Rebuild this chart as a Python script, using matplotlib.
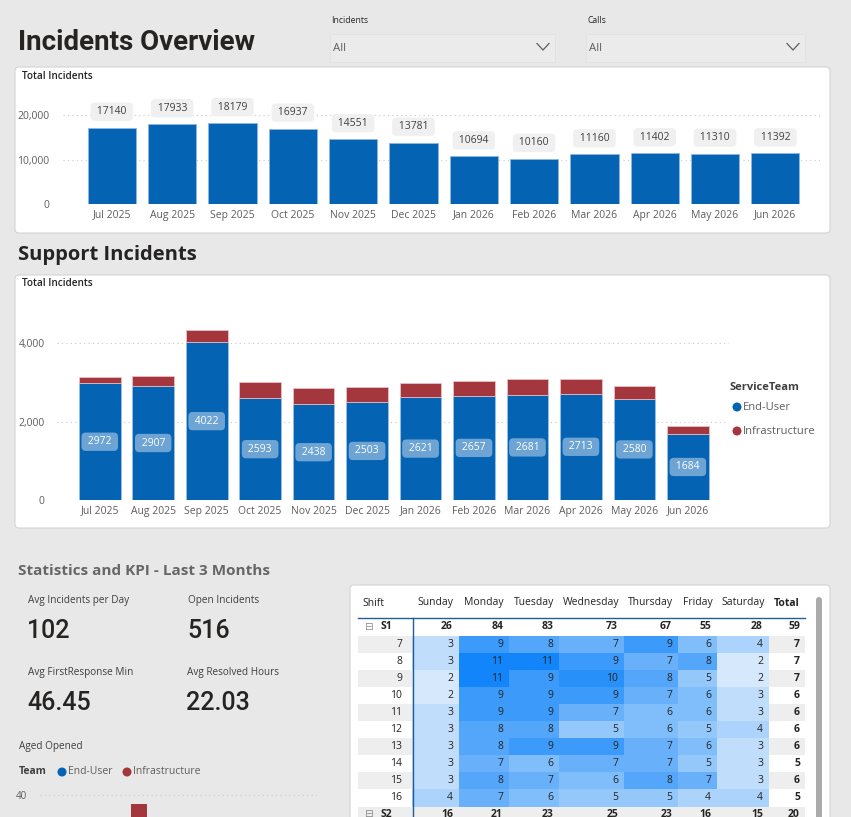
import matplotlib
matplotlib.use("Agg")
import matplotlib.pyplot as plt
from matplotlib.patches import FancyBboxPatch, Rectangle, Circle
from matplotlib.colors import LinearSegmentedColormap
import numpy as np

plt.rcParams['font.family'] = ['Open Sans', 'DejaVu Sans']

# ---------------- data ----------------
months = ["Jul 2025", "Aug 2025", "Sep 2025", "Oct 2025", "Nov 2025", "Dec 2025",
          "Jan 2026", "Feb 2026", "Mar 2026", "Apr 2026", "May 2026", "Jun 2026"]
total_incidents = [17140, 17933, 18179, 16937, 14551, 13781, 10694, 10160, 11160, 11402, 11310, 11392]
end_user = [2972, 2907, 4022, 2593, 2438, 2503, 2621, 2657, 2681, 2713, 2580, 1684]
infrastructure = [162, 260, 309, 405, 415, 384, 352, 367, 402, 370, 316, 201]
series_names = ["End-User", "Infrastructure"]

slicer_labels = ["Incidents", "Calls"]
slicer_values = ["All", "All"]

kpi_labels = ["Avg Incidents per Day", "Open Incidents", "Avg FirstResponse Min", "Avg Resolved Hours"]
kpi_values = ["102", "516", "46.45", "22.03"]

weekdays = ["Sunday", "Monday", "Tuesday", "Wednesday", "Thursday", "Friday", "Saturday"]
shift_hours = ["7", "8", "9", "10", "11", "12", "13", "14", "15", "16"]
hour_values = [
    [3, 9, 8, 7, 9, 6, 4],
    [3, 11, 11, 9, 7, 8, 2],
    [2, 11, 9, 10, 8, 5, 2],
    [2, 9, 9, 9, 7, 6, 3],
    [3, 9, 9, 7, 6, 6, 3],
    [3, 8, 8, 5, 6, 5, 4],
    [3, 8, 9, 9, 7, 6, 3],
    [3, 7, 6, 7, 7, 5, 3],
    [3, 8, 7, 6, 8, 7, 3],
    [4, 7, 6, 5, 5, 4, 4],
]
hour_totals = [7, 7, 7, 6, 6, 6, 6, 5, 6, 5]
s1_values = [26, 84, 83, 73, 67, 55, 28]
s1_total = 59
s2_values = [16, 21, 23, 25, 23, 16, 15]
s2_total = 20

aged_infra = [38]
aged_grid = [40]

# ---------------- style ----------------
BG = '#E8E8E8'
BLUE = '#0563B4'
RED = '#A4373D'
DARK = '#252423'
GREY = '#605E5C'
W, H = 851, 817

fig = plt.figure(figsize=(W / 100, H / 100), dpi=100)
fig.patch.set_facecolor(BG)
bg = fig.add_axes([0, 0, 1, 1])
bg.set_xlim(0, W)
bg.set_ylim(H, 0)
bg.axis('off')


def card(x0, y0, x1, y1, fc='white', ec='#D4D4D4', r=4):
    bg.add_patch(FancyBboxPatch((x0, y0), x1 - x0, y1 - y0,
                                boxstyle=f"round,pad=0,rounding_size={r}",
                                fc=fc, ec=ec, lw=0.8))


def axes_px(x0, y0, x1, y1):
    return fig.add_axes([x0 / W, 1 - y1 / H, (x1 - x0) / W, (y1 - y0) / H])


def style_axes(ax, ticks, labels, pad_y, size=7.5):
    ax.set_facecolor('none')
    for s in ax.spines.values():
        s.set_visible(False)
    ax.set_yticks(ticks)
    ax.set_yticklabels(labels)
    ax.tick_params(axis='both', length=0, labelsize=size, labelcolor=GREY)
    ax.tick_params(axis='y', pad=pad_y)
    ax.grid(axis='y', color='#C8C8C8', linestyle=(0, (1, 3)), linewidth=0.8)
    ax.set_axisbelow(True)


# ---------------- header ----------------
bg.text(18, 42, "Incidents Overview", fontsize=20, fontweight='bold', family='Roboto',
        va='center', ha='left', color=DARK)
for lx, lab, val, wbox in zip([330, 586], slicer_labels, slicer_values, [225, 219]):
    bg.text(lx + 1, 20, lab, fontsize=6.2, va='center', color=DARK)
    bg.add_patch(Rectangle((lx, 34), wbox, 28, fc='#EBEBEB', ec='#E1E1E1', lw=0.6))
    bg.text(lx + 3, 48, val, fontsize=8.2, va='center', color=GREY)
    cx = lx + wbox - 12
    bg.plot([cx - 6, cx, cx + 6], [43.5, 50, 43.5], color=GREY, lw=0.9)

# ---------------- top chart ----------------
card(15, 67, 830, 233)
bg.text(22, 76, "Total Incidents", fontsize=7.2, va='center', color=DARK, fontweight='semibold')
x = np.arange(len(months))
ax1 = axes_px(63, 95, 820, 204)
ax1.bar(x, total_incidents, width=0.8, color=BLUE, edgecolor='#8DB8E6', lw=0.6)
for xi, v in zip(x, total_incidents):
    ax1.annotate(f" {v} ", (xi, v), xytext=(0, 16), textcoords='offset pixels',
                 ha='center', va='center', fontsize=7.5, color='#404040',
                 bbox=dict(boxstyle='round,pad=0.35,rounding_size=0.4', fc='#F0F0F0', ec='none'))
ax1.set_xlim(-0.81, 11.74)
ax1.set_ylim(0, 24500)
style_axes(ax1, [0, 10000, 20000], ["0", "10,000", "20,000"], 10)
ax1.set_xticks(x)
ax1.set_xticklabels(months)
ax1.tick_params(axis='x', pad=4)

# ---------------- support incidents ----------------
bg.text(18, 255, "Support Incidents", fontsize=14.5, fontweight='bold', va='center', color=DARK)
card(15, 275, 830, 528)
bg.text(22, 284, "Total Incidents", fontsize=7.2, va='center', color=DARK, fontweight='semibold')
ax2 = axes_px(57, 300, 729, 500)
ax2.bar(x, end_user, width=0.78, color=BLUE, edgecolor='#9CC3EA', lw=0.5, label=series_names[0])
ax2.bar(x, infrastructure, width=0.78, bottom=end_user, color=RED, edgecolor='#F0C8CA', lw=0.5,
        label=series_names[1])
for xi, v in zip(x, end_user):
    ax2.text(xi, v / 2, f" {v} ", ha='center', va='center', fontsize=7.5, color='white',
             bbox=dict(boxstyle='round,pad=0.35,rounding_size=0.4', fc='white', alpha=0.42, ec='none'))
ax2.set_xlim(-0.80, 11.77)
ax2.set_ylim(0, 5100)
style_axes(ax2, [0, 2000, 4000], ["0", "2,000", "4,000"], 9)
ax2.set_xticks(x)
ax2.set_xticklabels(months)
ax2.tick_params(axis='x', pad=4)

bg.text(730, 387, "ServiceTeam", fontsize=8, fontweight='bold', va='center', color='#404040')
for yy, name, col in zip([407, 431], series_names, [BLUE, RED]):
    bg.add_patch(Circle((737, yy), 4.5, fc=col, ec='none'))
    bg.text(743, yy, name, fontsize=8, va='center', color=GREY)

# ---------------- KPIs ----------------
bg.text(18, 571, "Statistics and KPI - Last 3 Months", fontsize=11, fontweight='bold',
        va='center', color='#666666')
kpi_pos = [(28, 600), (188, 600), (28, 672), (187, 672)]
for (kx, ky), lab, val in zip(kpi_pos, kpi_labels, kpi_values):
    bg.text(kx, ky, lab, fontsize=7.2, va='center', color='#404040')
    bg.text(kx - 1, ky + 31, val, fontsize=18, va='center', color=DARK, family='Roboto',
            fontweight='medium')

bg.text(19, 746, "Aged Opened", fontsize=7.2, va='center', color='#404040')
bg.text(19, 772, "Team", fontsize=7.5, fontweight='bold', va='center', color='#404040')
bg.add_patch(Circle((62, 772), 4.5, fc=BLUE, ec='none'))
bg.text(68, 772, series_names[0], fontsize=7.5, va='center', color=GREY)
bg.add_patch(Circle((127, 772), 4.5, fc=RED, ec='none'))
bg.text(133, 772, series_names[1], fontsize=7.5, va='center', color=GREY)

ax3 = axes_px(40, 785, 317, 817)
ax3.bar([0], aged_infra, width=1.0, color=RED)
ax3.set_xlim(-6.19, 11.12)
ax3.set_ylim(35, 42.27)
style_axes(ax3, aged_grid, [str(v) for v in aged_grid], 9, size=7)
ax3.set_xticks([])

# ---------------- table ----------------
card(350, 585, 830, 860)
col_edges = [358, 412, 459, 509, 559, 624, 678, 717, 769, 805]
cmap = LinearSegmentedColormap.from_list('heat', ['#D6E9FC', '#1185F9'])
vmin, vmax = 2, 11
FS = 7.5

hy = 603
bg.text(362, hy, "Shift", fontsize=FS, va='center', color=DARK)
for j, d in enumerate(weekdays):
    bg.text((col_edges[j + 1] + col_edges[j + 2]) / 2, hy, d, fontsize=FS, va='center',
            ha='center', color=DARK)
bg.text((col_edges[8] + col_edges[9]) / 2, hy, "Total", fontsize=FS, fontweight='bold',
        va='center', ha='center', color=DARK)

row_h = 17.1
s1_top = 618
hours_top = 635.5


def value_text(xr, yc, s, bold=False):
    bg.text(xr, yc, s, fontsize=FS, va='center', ha='right', color=DARK,
            fontweight='bold' if bold else 'normal')


# S1 row
yc = s1_top + row_h / 2
bg.text(368, yc, "\u229F", fontsize=7.5, va='center', ha='center', color='#8A8A8A', family='DejaVu Sans')
bg.text(381, yc, "S1", fontsize=FS, fontweight='bold', va='center', color=DARK)
for j, v in enumerate(s1_values):
    value_text(col_edges[j + 2] - 6, yc, str(v), True)
value_text(col_edges[9] - 5, yc, str(s1_total), True)

for i, (hr, vals, tot) in enumerate(zip(shift_hours, hour_values, hour_totals)):
    top = hours_top + i * row_h
    yc = top + row_h / 2
    shade = '#EEEEEE' if i % 2 == 0 else 'white'
    bg.add_patch(Rectangle((col_edges[0], top), col_edges[1] - col_edges[0], row_h, fc=shade, ec='none'))
    bg.add_patch(Rectangle((col_edges[8], top), col_edges[9] - col_edges[8], row_h, fc=shade, ec='none'))
    bg.text(402, yc, hr, fontsize=FS, va='center', ha='right', color=DARK)
    for j, v in enumerate(vals):
        c = cmap((v - vmin) / (vmax - vmin))
        bg.add_patch(Rectangle((col_edges[j + 1], top), col_edges[j + 2] - col_edges[j + 1], row_h,
                               fc=c, ec='none'))
        value_text(col_edges[j + 2] - 6, yc, str(v))
    value_text(col_edges[9] - 5, yc, str(tot), True)

# S2 row (partly hidden by the bottom edge, as in the dashboard)
top = hours_top + len(shift_hours) * row_h
yc = top + row_h / 2 - 1
bg.add_patch(Rectangle((col_edges[0], top), col_edges[9] - col_edges[0], row_h, fc='#EEEEEE', ec='none'))
bg.text(368, yc, "\u229F", fontsize=7.5, va='center', ha='center', color='#8A8A8A', family='DejaVu Sans')
bg.text(381, yc, "S2", fontsize=FS, fontweight='bold', va='center', color=DARK)
for j, v in enumerate(s2_values):
    value_text(col_edges[j + 2] - 6, yc, str(v), True)
value_text(col_edges[9] - 5, yc, str(s2_total), True)

bg.plot([col_edges[0], col_edges[9]], [s1_top, s1_top], color='#1F5F99', lw=1.0)
bg.plot([col_edges[1] + 0.5, col_edges[1] + 0.5], [s1_top, H + 5], color='#1F5F99', lw=1.0)

# scrollbar
bg.add_patch(FancyBboxPatch((816, 597), 6, 240, boxstyle="round,pad=0,rounding_size=3",
                            fc='#ABABAB', ec='none'))

fig.savefig("out.png", dpi=100, facecolor=BG)
